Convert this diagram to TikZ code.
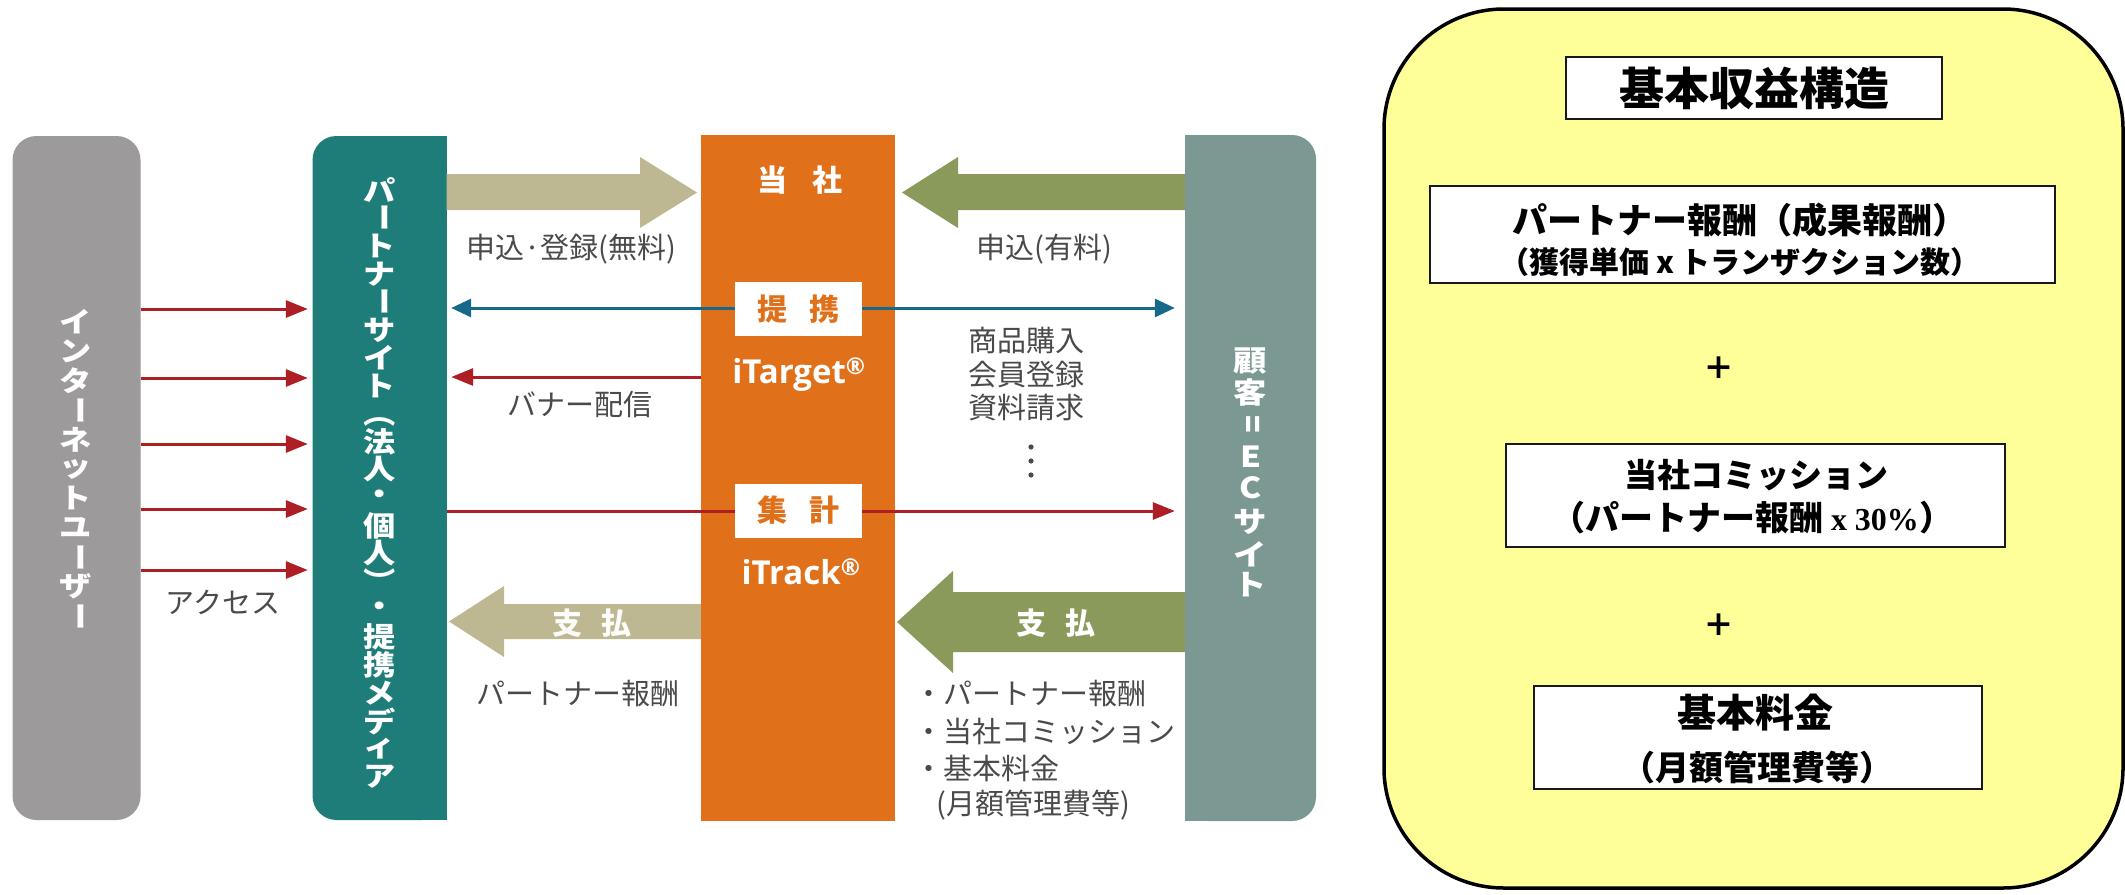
\documentclass[tikz,border=0pt]{standalone}
\usepackage{fontspec}
\usepackage{graphicx}
\usetikzlibrary{arrows.meta}
\newfontfamily\jp{Noto Sans CJK JP}
\newfontfamily\lat{Open Sans}
\newfontfamily\tms{Liberation Serif}
\newcommand\setfs[1]{\fontsize{#1}{#1}\selectfont}
\newcommand\vrot[1]{\rotatebox[origin=c]{-90}{#1}}
\newcommand\wide[1]{\scalebox{1.15}[1]{#1}}
\definecolor{grayc}{HTML}{9C9A9B}
\definecolor{tealc}{HTML}{1F7D79}
\definecolor{orangec}{HTML}{E07019}
\definecolor{ecc}{HTML}{7B9892}
\definecolor{tanc}{HTML}{BDB891}
\definecolor{olivec}{HTML}{8A9A5B}
\definecolor{redc}{HTML}{AD1F24}
\definecolor{bluec}{HTML}{17698A}
\definecolor{labc}{HTML}{4A4A4A}
\definecolor{yelc}{HTML}{FFFF99}
\tikzset{
  lab/.style={inner sep=0, text=labc, font=\jp\setfs{29}},
  wlab/.style={inner sep=0, text=white, font=\jp\bfseries\setfs{30}},
  vchar/.style={inner sep=0, text=white, font=\jp\bfseries\setfs{#1}},
  thinred/.style={draw=redc, line width=3pt, -{Triangle[length=22pt,width=17pt]}},
  thinblue/.style={draw=bluec, line width=3pt, {Triangle[length=20pt,width=18pt]}-{Triangle[length=20pt,width=18pt]}},
  tagbox/.style={fill=white, minimum width=127pt, minimum height=54pt, inner sep=0, text=orangec, font=\jp\bfseries\setfs{30}},
  prod/.style={inner sep=0, text=white, font=\lat\bfseries\setfs{33}},
  rbox/.style={draw=black!90, line width=2.5pt, fill=white, inner sep=0},
  rtext/.style={inner sep=0, text=black, font=\jp\bfseries\setfs{#1}}
}
\begin{document}
\begin{tikzpicture}[x=1pt,y=-1pt]
\useasboundingbox (0,0) rectangle (2125,894);
\fill[white] (0,0) rectangle (2125,894);

% ---------- columns ----------
\node[fill=grayc, rounded corners=24pt, minimum width=128pt, minimum height=684pt, inner sep=0] (users) at (76.5,478) {};
\fill[tealc, rounded corners=24pt] (312.5,136) rectangle (446.5,820);
\fill[tealc] (380,136) rectangle (446.5,820);
\node[inner sep=0, minimum width=134pt, minimum height=684pt] (partner) at (379.5,478) {};
\node[fill=orangec, minimum width=194pt, minimum height=686pt, inner sep=0] (company) at (798,478) {};
\fill[ecc, rounded corners=24pt] (1185,135) rectangle (1316,821);
\fill[ecc] (1185,135) rectangle (1250,821);
\node[inner sep=0, minimum width=131pt, minimum height=686pt] (ec) at (1250.5,478) {};

% ---------- vertical texts ----------
\foreach \ch [count=\i from 0] in {イ,ン,タ,\vrot{ー},ネ,ッ,ト,ユ,\vrot{ー},ザ,\vrot{ー}}
  \node[vchar=28] (u\i) at (76,322+29.4*\i) {\wide{\ch}};
\foreach \ch [count=\i from 0] in {パ,\vrot{ー},ト,ナ,\vrot{ー},サ,イ,ト,\vrot{（},法,人,・,個,人,\vrot{）},・,提,携,メ,デ,ィ,ア}
  \node[vchar=28] (p\i) at (380,190+27.95*\i) {\wide{\ch}};
\foreach \ch/\yy [count=\i] in {顧/361,客/393,\vrot{=}/424,E/457,C/488,サ/522,イ/554,ト/585}
  \node[vchar=29] (e\i) at (1250.5,\yy) {\wide{\ch}};

% ---------- block arrows ----------
\fill[tanc] (partner.east |- 0,174) -- (640,174) -- (640,157) -- (697,192.5) -- (640,228) -- (640,210) -- (partner.east |- 0,210) -- cycle;
\fill[olivec] (ec.west |- 0,174) -- (958,174) -- (958,157) -- (902,192.5) -- (958,228) -- (958,210) -- (ec.west |- 0,210) -- cycle;
\fill[tanc] (company.west |- 0,604) -- (504,604) -- (504,586) -- (449,621.5) -- (504,657) -- (504,639) -- (company.west |- 0,639) -- cycle;
\fill[olivec] (ec.west |- 0,592) -- (953,592) -- (953,571) -- (897,622) -- (953,673) -- (953,652) -- (ec.west |- 0,652) -- cycle;
\node[wlab, text=white!95!tanc] (pay1) at (592,623) {支\hspace{20pt}払};
\node[wlab] (pay2) at (1056,623) {支\hspace{20pt}払};

% ---------- thin arrows ----------
\foreach \yy [count=\k] in {309,378,444,509,570}
  \draw[thinred, shorten >=4.5pt] (users.east |- 0,\yy) -- (partner.west |- 0,\yy);
\draw[thinblue, shorten <=4.5pt, shorten >=10pt] (partner.east |- 0,308) -- (ec.west |- 0,308);
\draw[thinred, shorten >=4.5pt] (company.west |- 0,377) -- (partner.east |- 0,377);
\draw[thinred, shorten >=10pt] (partner.east |- 0,511) -- (ec.west |- 0,511);

% ---------- company column texts ----------
\node[wlab] (tosha) at (800,180) {当\hspace{25pt}社};
\node[tagbox] (teikei) at (798.5,309) {提\hspace{22pt}携};
\node[prod] (itarget) at (799,375) {iTarget\textsuperscript{®}};
\node[tagbox] (shukei) at (798.5,510.5) {集\hspace{22pt}計};
\node[prod] (itrack) at (801,572) {iTrack\textsuperscript{®}};

% ---------- labels ----------
\node[lab] (l1) at (571,249) {申込·登録(無料)};
\node[lab] (l2) at (1044,249) {申込(有料)};
\node[lab] (l3) at (580,405) {バナー配信};
\node[lab] (l4) at (578,694) {パートナー報酬};
\node[lab] (l5) at (223,602) {アクセス};
\node[lab, anchor=west] (l6) at (968,340) {商品購入};
\node[lab, anchor=west] (l7) at (968,375) {会員登録};
\node[lab, anchor=west] (l8) at (968,408) {資料請求};
\foreach \yy in {447,461,475} \fill[labc] (1031,\yy) circle[radius=2.6pt];
\node[lab, anchor=west] (m1) at (914,694) {・パートナー報酬};
\node[lab, anchor=west] (m2) at (914,731) {・当社コミッション};
\node[lab, anchor=west] (m3) at (914,768) {・基本料金};
\node[lab, anchor=west] (m4) at (936,805) {(月額管理費等)};

% ---------- right panel ----------
\node[draw=black, line width=3.5pt, fill=yelc, rounded corners=120pt, minimum width=739pt, minimum height=879pt, inner sep=0] (panel) at (1753.5,448.5) {};
\node[rbox, minimum width=376pt, minimum height=62pt] (title) at (1754,88) {};
\node[rtext=45] (titlet) at (1754,88) {基本収益構造};
\node[rbox, minimum width=625pt, minimum height=97pt] (r1) at (1742.5,234.5) {};
\node[rtext=35] (r1a) at (1740,220) {パートナー報酬（成果報酬）};
\node[rtext=30] (r1b) at (1740,262) {（獲得単価 x トランザクション数）};
\node[rtext=31] (plus1) at (1719,368) {＋};
\node[rbox, minimum width=499pt, minimum height=103pt] (r2) at (1755.5,495.5) {};
\node[rtext=33] (r2a) at (1756.5,475) {当社コミッション};
\node[rtext=34] (r2b) at (1752,518) {（パートナー報酬{\tms\bfseries\setfs{32}\ x 30\%}）};
\node[rtext=31] (plus2) at (1719,625) {＋};
\node[rbox, minimum width=448pt, minimum height=103pt] (r3) at (1758,737.5) {};
\node[rtext=39] (r3a) at (1755.5,713) {基本料金};
\node[rtext=34] (r3b) at (1757,768) {（月額管理費等）};
\end{tikzpicture}
\end{document}
